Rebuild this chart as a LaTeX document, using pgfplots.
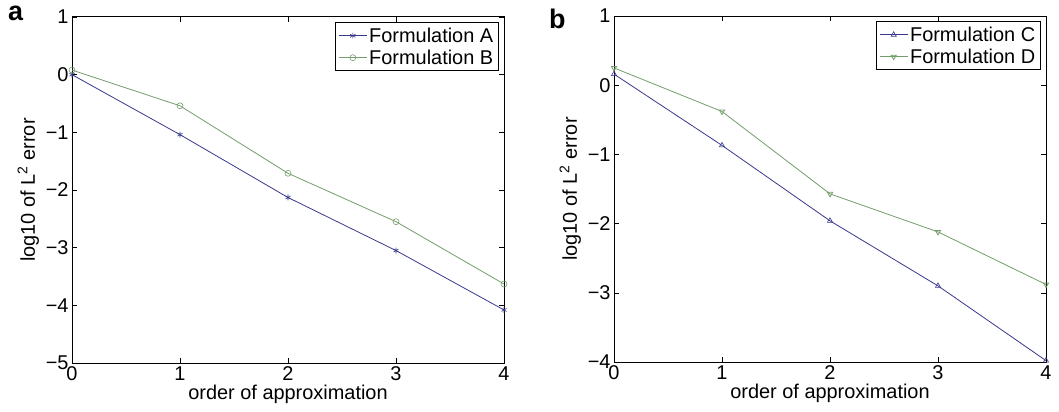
\documentclass[border=0pt]{standalone}
\usepackage{fontspec}
\setmainfont{Liberation Sans}
\usepackage{pgfplots}
\pgfplotsset{compat=1.18}
\definecolor{mblue}{rgb}{0.22,0.22,0.55}
\definecolor{mgreen}{rgb}{0.45,0.62,0.42}

\pgfplotsset{
  panel/.style={
    anchor=south west, scale only axis,
    width=432bp, height=346bp,
    xmin=0, xmax=4, xtick={0,1,2,3,4},
    tick align=inside, xtick pos=both, ytick pos=both,
    major tick length=5bp,
    axis line style={line width=1bp, black},
    every tick/.style={black, line width=0.6bp},
    tick label style={font=\fontsize{20}{24}\selectfont},
    label style={font=\fontsize{20}{24}\selectfont},
    /pgf/number format/assume math mode=true,
    xlabel={order of approximation},
    ylabel={log10 of L\textsuperscript{2} error},
    xlabel style={yshift=2bp},
    legend style={at={(0.988,0.985)}, anchor=north east, draw=black,
      line width=1.2bp, font=\fontsize{20}{24}\selectfont,
      inner xsep=3bp, inner ysep=3bp, row sep=2bp},
    legend cell align=left,
    legend image code/.code={
      \draw[mark repeat=2, mark phase=2, line width=0.8bp]
        plot coordinates {(0bp,0bp) (14bp,0bp) (28bp,0bp)};
    },
  },
  ser/.style={line width=0.8bp, mark size=3bp, mark options={solid, line width=0.6bp}},
}

\begin{document}
\begin{tikzpicture}
\useasboundingbox (0bp,0bp) rectangle (1059bp,412bp);

\begin{axis}[panel, at={(72bp,49bp)},
  ymin=-5, ymax=1, ytick={-5,-4,-3,-2,-1,0,1},
  yticklabels={−5,−4,−3,−2,−1,0,1}]
\addplot[ser, mblue, mark=asterisk] coordinates {(0,0.0) (1,-1.04) (2,-2.13) (3,-3.05) (4,-4.08)};
\addlegendentry{Formulation A}
\addplot[ser, mgreen, mark=o] coordinates {(0,0.08) (1,-0.54) (2,-1.71) (3,-2.55) (4,-3.63)};
\addlegendentry{Formulation B}
\end{axis}

\begin{axis}[panel, at={(614bp,50bp)},
  ymin=-4, ymax=1, ytick={-4,-3,-2,-1,0,1},
  yticklabels={−4,−3,−2,−1,0,1}]
\addplot[ser, mblue, mark=triangle] coordinates {(0,0.16) (1,-0.87) (2,-1.96) (3,-2.90) (4,-3.98)};
\addlegendentry{Formulation C}
\addplot[ser, mgreen, mark=triangle, mark options={rotate=180}] coordinates {(0,0.25) (1,-0.38) (2,-1.57) (3,-2.12) (4,-2.88)};
\addlegendentry{Formulation D}
\end{axis}

\node[anchor=north west, inner sep=0pt, font=\bfseries\fontsize{27}{30}\selectfont] at (8bp,406bp) {a};
\node[anchor=north west, inner sep=0pt, font=\bfseries\fontsize{27}{30}\selectfont] at (549bp,403bp) {b};
\end{tikzpicture}
\end{document}
